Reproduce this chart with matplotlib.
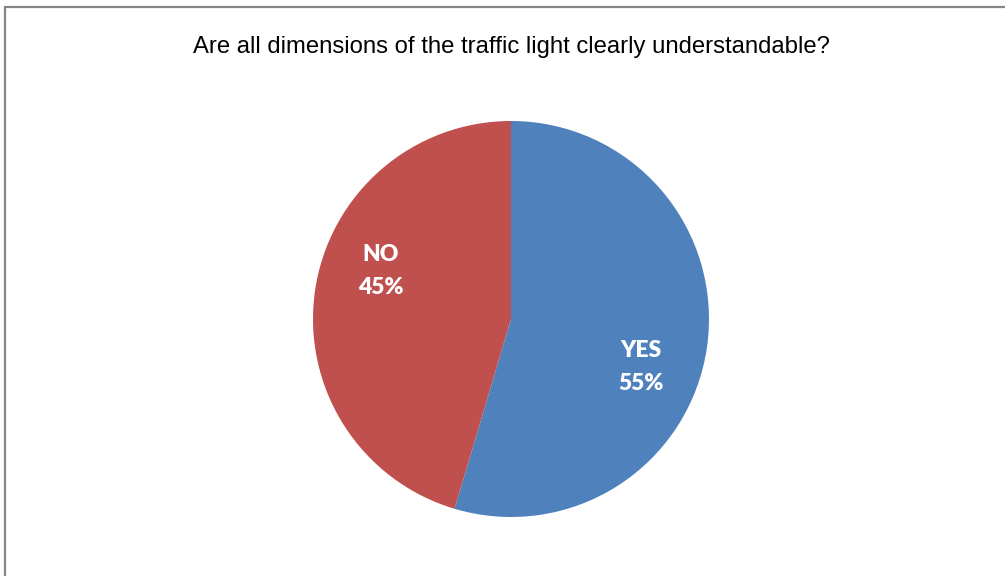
import matplotlib
matplotlib.use("Agg")
import matplotlib.pyplot as plt
from matplotlib.patches import Rectangle
import numpy as np

W, H = 1005, 576

title = "Are all dimensions of the traffic light clearly understandable?"
labels = ["YES", "NO"]
shares = [54.6, 45.4]
colors = ["#4f81bd", "#c0504d"]

fig = plt.figure(figsize=(W / 100, H / 100), dpi=100)

# grey chart-area frame, runs off the right and bottom edges
fig.patches.append(Rectangle((5 / W, -0.1), 1.1, 1 - 7 / H + 0.1,
                             transform=fig.transFigure, fill=False,
                             edgecolor="#868686", linewidth=1.6))

fig.text(511 / W, 1 - 47.5 / H, title, ha="center", va="center",
         fontsize=17.2, family="Liberation Sans")

cx, cy, r = 511, 319, 198
ax = fig.add_axes([(cx - r) / W, (H - cy - r) / H, 2 * r / W, 2 * r / H])
wedges, texts = ax.pie(shares, colors=colors, startangle=90, counterclock=False,
                       radius=1, wedgeprops=dict(linewidth=0))

# data labels sit a bit clockwise of the wedge middle, as in the source
for w, lab, s in zip(wedges, labels, shares):
    ang = np.deg2rad((w.theta1 + w.theta2) / 2 - 12)
    ax.text(0.7 * np.cos(ang), 0.7 * np.sin(ang), f"{lab}\n{s:.0f}%",
            ha="center", va="center", color="white", fontsize=16.5,
            fontweight="heavy", family="Lato", linespacing=1.72)

ax.set_xlim(-1, 1)
ax.set_ylim(-1, 1)
ax.set_aspect("equal")
ax.axis("off")

fig.savefig("out.png", dpi=100)
